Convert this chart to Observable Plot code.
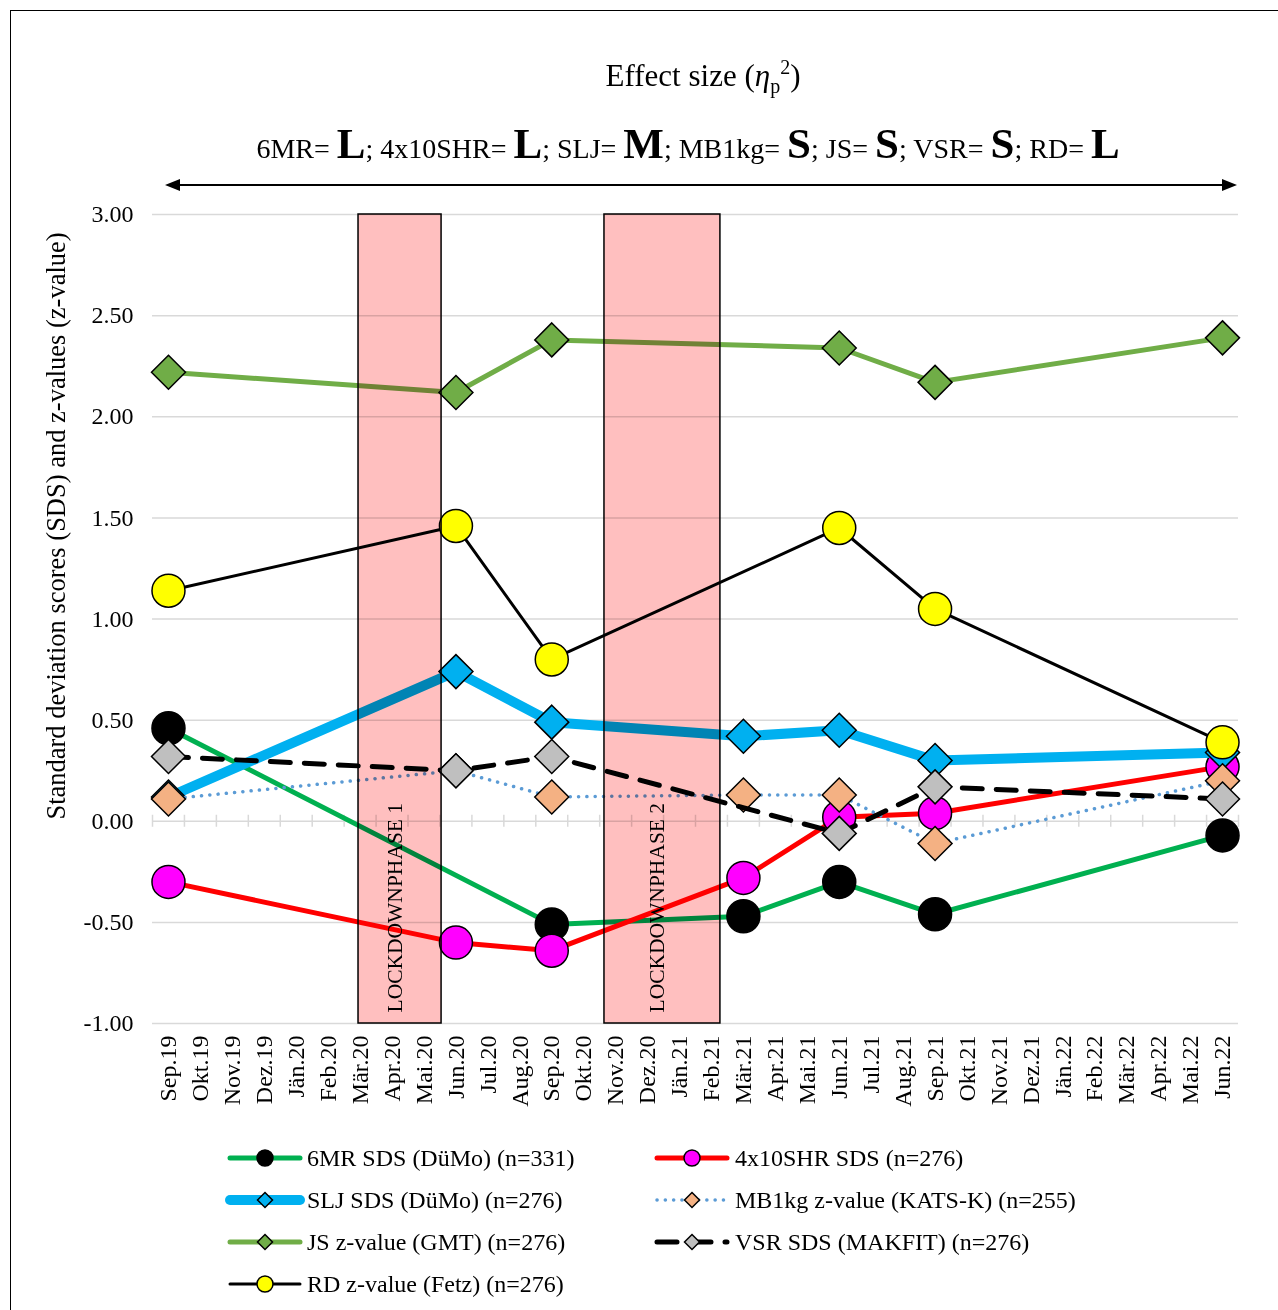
<!DOCTYPE html>
<html><head><meta charset="utf-8">
<script src="https://cdn.jsdelivr.net/npm/d3@7"></script>
<script src="https://cdn.jsdelivr.net/npm/@observablehq/plot@0.6"></script>
<style>
body{margin:0;background:#fff;font-family:"Liberation Serif","Times New Roman",serif;color:#000}
#page{position:relative;width:1278px;height:1310px;overflow:hidden;background:#fff}
#frame{position:absolute;left:10px;top:10px;width:1400px;height:1400px;border-left:1.5px solid #000;border-top:1.5px solid #000;pointer-events:none;z-index:10}
#title{position:absolute;left:0;width:1406px;top:58px;text-align:center;font-size:31px;line-height:36px;white-space:nowrap}
#title .sub{font-size:20px;position:relative;top:7px}
#title .sup{font-size:20px;position:relative;top:-12px}
#effects{position:absolute;left:0;width:1376px;top:122px;text-align:center;font-size:28px;line-height:43px;white-space:nowrap}
#effects b{font-size:43px}
#arrow{position:absolute;left:0;top:175px}
#chart{position:absolute;left:0;top:195px}
.leg{position:absolute;height:30px;font-size:24px;line-height:30px;white-space:nowrap}
.sw{position:absolute;height:30px}
</style></head>
<body>
<div id="page">
  <div id="title">Effect size (<i>η</i><span class="sub">p</span><span class="sup">2</span>)</div>
  <div id="effects">6MR= <b>L</b>; 4x10SHR= <b>L</b>; SLJ= <b>M</b>; MB1kg= <b>S</b>; JS= <b>S</b>; VSR= <b>S</b>; RD= <b>L</b></div>
  <svg id="arrow" width="1278" height="20">
    <line x1="175" y1="10" x2="1227" y2="10" stroke="#000" stroke-width="2"/>
    <polygon points="165,10 180,4 180,16" fill="#000"/>
    <polygon points="1237,10 1222,4 1222,16" fill="#000"/>
  </svg>
  <div id="chart"></div>
  <div id="legend"></div>
  <div id="frame"></div>
</div>
<script>
// ---- data ----
const months = ["Sep.19","Okt.19","Nov.19","Dez.19","Jän.20","Feb.20","Mär.20","Apr.20","Mai.20","Jun.20","Jul.20","Aug.20","Sep.20","Okt.20","Nov.20","Dez.20","Jän.21","Feb.21","Mär.21","Apr.21","Mai.21","Jun.21","Jul.21","Aug.21","Sep.21","Okt.21","Nov.21","Dez.21","Jän.22","Feb.22","Mär.22","Apr.22","Mai.22","Jun.22"];
const testMonths = ["Sep.19","Jun.20","Sep.20","Mär.21","Jun.21","Sep.21","Jun.22"];
const sds6MR     = [0.46, null, -0.51, -0.47, -0.30, -0.46, -0.07];
const sds4x10SHR = [-0.30, -0.60, -0.64, -0.28, 0.02, 0.04, 0.27];
const sdsSLJ     = [0.12, 0.74, 0.49, 0.42, 0.45, 0.30, 0.34];
const zMB1kg     = [0.11, 0.25, 0.12, 0.13, 0.13, -0.11, 0.20];
const zJS        = [2.22, 2.12, 2.38, null, 2.34, 2.17, 2.39];
const sdsVSR     = [0.32, 0.25, 0.32, null, -0.06, 0.17, 0.11];
const zRD        = [1.14, 1.46, 0.80, null, 1.45, 1.05, 0.39];
const seriesNames = ["6MR SDS (DüMo) (n=331)","4x10SHR SDS (n=276)","SLJ SDS (DüMo) (n=276)","MB1kg z-value (KATS-K) (n=255)","JS z-value (GMT) (n=276)","VSR SDS (MAKFIT) (n=276)","RD z-value (Fetz) (n=276)"];
const lockdownLabels = ["LOCKDOWNPHASE 1","LOCKDOWNPHASE 2"];
const lockdownStart  = [5.95, 13.65];   // position on month axis (index)
const lockdownEnd    = [8.55, 17.28];
const yTicks = [-1, -0.5, 0, 0.5, 1, 1.5, 2, 2.5, 3];
const yTitle = "Standard deviation scores (SDS) and z-values (z-value)";

// ---- styles ----
const styles = [
  {values: sds6MR,     line:"#00b050", width:5,   symbol:"circle",   fill:"#000000", stroke:"#000"},
  {values: sds4x10SHR, line:"#ff0000", width:5,   symbol:"circle",   fill:"#ff00ff", stroke:"#000"},
  {values: sdsSLJ,     line:"#00b0f0", width:10,  symbol:"diamond2", fill:"#00b0f0", stroke:"#000"},
  {values: zMB1kg,     line:"#5b9bd5", width:3.5, symbol:"diamond2", fill:"#f4b183", stroke:"#000", dash:"0.1,8.2"},
  {values: zJS,        line:"#70ad47", width:5,   symbol:"diamond2", fill:"#70ad47", stroke:"#000"},
  {values: sdsVSR,     line:"#000000", width:5,   symbol:"diamond2", fill:"#bfbfbf", stroke:"#000", dash:"20,14"},
  {values: zRD,        line:"#000000", width:3,   symbol:"circle",   fill:"#ffff00", stroke:"#000"}
];

const seriesMarks = [];
styles.forEach(s => {
  const data = testMonths.map((m, i) => ({x: months.indexOf(m), y: s.values[i]})).filter(d => d.y != null);
  seriesMarks.push(Plot.line(data, {x: "x", y: "y", stroke: s.line, strokeWidth: s.width,
    strokeDasharray: s.dash, strokeLinecap: "round", strokeLinejoin: "round"}));
  seriesMarks.push(Plot.dot(data, {x: "x", y: "y", symbol: s.symbol, r: s.symbol === "circle" ? 16.5 : 15.3,
    fill: s.fill, stroke: s.stroke, strokeWidth: 1.5}));
});

const lockdowns = lockdownLabels.map((label, i) => ({label, start: lockdownStart[i], end: lockdownEnd[i]}));
const bounds = d3.range(months.length + 1).map(i => i - 0.5);

const chart = Plot.plot({
  width: 1278, height: 935,
  marginTop: 19, marginBottom: 107, marginLeft: 152, marginRight: 40,
  x: {type: "linear", domain: [-0.5, months.length - 0.5], label: null},
  y: {domain: [-1, 3], label: null},
  style: {fontFamily: "'Liberation Serif', 'Times New Roman', serif", fontSize: "24px", color: "#000", background: "transparent"},
  marks: [
    Plot.gridY(yTicks, {stroke: "#d9d9d9", strokeOpacity: 1, strokeWidth: 1.5}),
    Plot.ruleX(bounds, {x: d => d, y1: 0, y2: 0, insetTop: -6, insetBottom: -6, stroke: "#d9d9d9", strokeWidth: 1.5}),
    Plot.axisY(yTicks, {tickFormat: d => d.toFixed(2), tickSize: 0, tickPadding: 19, label: null}),
    Plot.axisX(d3.range(months.length), {tickFormat: i => months[i], tickRotate: -90, tickSize: 0, tickPadding: 12, label: null}),
    ...seriesMarks,
    Plot.rect(lockdowns, {x1: "start", x2: "end", fill: "#ffbfbf", stroke: "#000", strokeWidth: 1.5, mixBlendMode: "multiply"}),
    Plot.text(lockdowns, {x: d => (d.start + d.end) / 2, text: "label", frameAnchor: "bottom", dy: -11, dx: 2, rotate: -90, textAnchor: "start", fontSize: 21.5}),
    Plot.text([yTitle], {text: d => d, frameAnchor: "left", textAnchor: "middle", dx: -96, dy: -93, rotate: -90, fontSize: 26.5})
  ]
});
document.getElementById("chart").append(chart);

// ---- legend ----
const legend = document.getElementById("legend");
const ns = "http://www.w3.org/2000/svg";
styles.forEach((s, i) => {
  const col = i % 2, row = Math.floor(i / 2);
  const cy = 1158 + row * 42;
  const x0 = col === 0 ? 225 : 652;
  const sw = document.createElementNS(ns, "svg");
  sw.setAttribute("class", "sw"); sw.setAttribute("width", 80); sw.setAttribute("height", 30);
  sw.style.left = x0 + "px"; sw.style.top = (cy - 15) + "px";
  let inner = `<line x1="5" y1="15" x2="75" y2="15" stroke="${s.line}" stroke-width="${s.width}" ${s.dash ? `stroke-dasharray="${s.dash}"` : ""} stroke-linecap="round"/>`;
  if (s.symbol === "circle") inner += `<circle cx="40" cy="15" r="8" fill="${s.fill}" stroke="#000" stroke-width="1.5"/>`;
  else inner += `<polygon points="40,7.5 47.5,15 40,22.5 32.5,15" fill="${s.fill}" stroke="#000" stroke-width="1.5"/>`;
  sw.innerHTML = inner;
  legend.append(sw);
  const t = document.createElement("div");
  t.className = "leg"; t.textContent = seriesNames[i];
  t.style.left = (col === 0 ? 307 : 735) + "px"; t.style.top = (cy - 15) + "px";
  legend.append(t);
});
</script>
</body></html>
